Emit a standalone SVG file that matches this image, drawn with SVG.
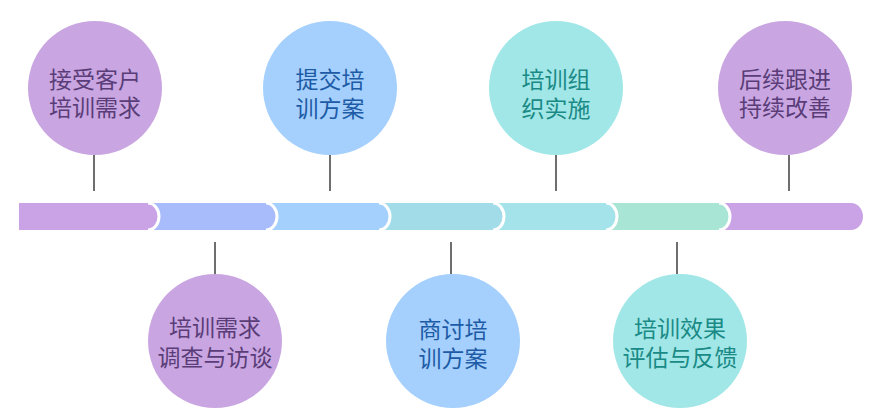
<svg xmlns="http://www.w3.org/2000/svg" width="874" height="419" viewBox="0 0 874 419">
<style>
.t{font-family:"Noto Sans CJK SC","Noto Sans",sans-serif;font-size:23px;text-anchor:middle}
.tp{fill:#5A3D78}.tb{fill:#1D5BA6}.tc{fill:#1A8A86}
.cp{fill:#C9A6E1}.cb{fill:#A5D0FD}.cc{fill:#A2E7E7}
.edge{fill:none;stroke:#FFFFFF;stroke-width:3}
.ln{stroke:#6E6E6E;stroke-width:2}
</style>
<rect width="874" height="419" fill="#FFFFFF"/>
<g id="timeline">
  <path d="M716 203 H851 A12 13.5 0 0 1 851 230 H716 Z" fill="#C9A3E6"/>
  <path d="M603 203 H719 A11 13.5 0 0 1 719 230 H603 Z" fill="#A8E5D4"/>
  <path class="edge" d="M719 203 A11 13.5 0 0 1 719 230"/>
  <path d="M490 203 H606 A11 13.5 0 0 1 606 230 H490 Z" fill="#A3E3E9"/>
  <path class="edge" d="M606 203 A11 13.5 0 0 1 606 230"/>
  <path d="M376 203 H493 A11 13.5 0 0 1 493 230 H376 Z" fill="#A3DCE9"/>
  <path class="edge" d="M493 203 A11 13.5 0 0 1 493 230"/>
  <path d="M263 203 H379 A11 13.5 0 0 1 379 230 H263 Z" fill="#A3D0FC"/>
  <path class="edge" d="M379 203 A11 13.5 0 0 1 379 230"/>
  <path d="M145 203 H266 A11 13.5 0 0 1 266 230 H145 Z" fill="#A8BCFC"/>
  <path class="edge" d="M266 203 A11 13.5 0 0 1 266 230"/>
  <path d="M19 203 H148 A11 13.5 0 0 1 148 230 H19 Z" fill="#C9A3E6"/>
  <path class="edge" d="M148 203 A11 13.5 0 0 1 148 230"/>
</g>
<g id="connectors">
  <line class="ln" x1="94" y1="155" x2="94" y2="191"/>
  <line class="ln" x1="330" y1="155" x2="330" y2="191"/>
  <line class="ln" x1="556" y1="155" x2="556" y2="191"/>
  <line class="ln" x1="789" y1="155" x2="789" y2="191"/>
  <line class="ln" x1="215" y1="242" x2="215" y2="274"/>
  <line class="ln" x1="451" y1="242" x2="451" y2="274"/>
  <line class="ln" x1="677" y1="242" x2="677" y2="274"/>
</g>
<g id="node1">
  <circle class="cp" cx="95" cy="88" r="67"/>
  <text class="t tp" x="95" y="88">接受客户</text>
  <text class="t tp" x="95" y="116">培训需求</text>
</g>
<g id="node2">
  <circle class="cp" cx="215" cy="341" r="67"/>
  <text class="t tp" x="215" y="336">培训需求</text>
  <text class="t tp" x="215" y="366">调查与访谈</text>
</g>
<g id="node3">
  <circle class="cb" cx="330" cy="88" r="67"/>
  <text class="t tb" x="330" y="88">提交培</text>
  <text class="t tb" x="330" y="117">训方案</text>
</g>
<g id="node4">
  <circle class="cb" cx="453" cy="341" r="67"/>
  <text class="t tb" x="453" y="338">商讨培</text>
  <text class="t tb" x="453" y="367">训方案</text>
</g>
<g id="node5">
  <circle class="cc" cx="556" cy="88" r="67"/>
  <text class="t tc" x="556" y="88">培训组</text>
  <text class="t tc" x="556" y="117">织实施</text>
</g>
<g id="node6">
  <circle class="cc" cx="680" cy="341" r="67"/>
  <text class="t tc" x="680" y="337">培训效果</text>
  <text class="t tc" x="680" y="366">评估与反馈</text>
</g>
<g id="node7">
  <circle class="cp" cx="785" cy="88" r="67"/>
  <text class="t tp" x="785" y="88">后续跟进</text>
  <text class="t tp" x="785" y="116">持续改善</text>
</g>
</svg>
